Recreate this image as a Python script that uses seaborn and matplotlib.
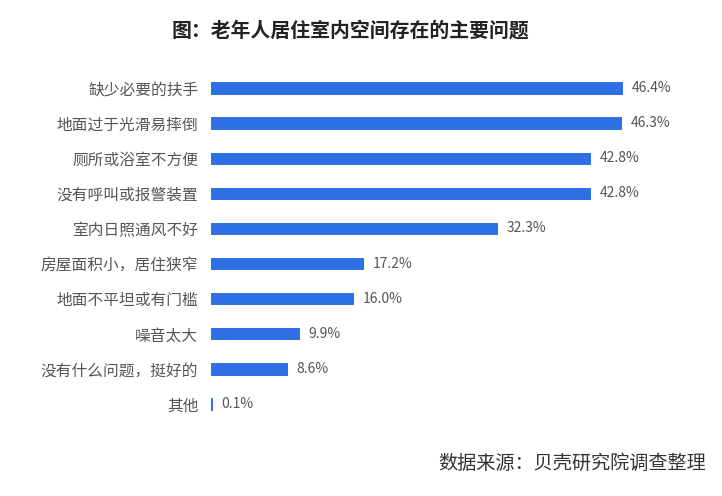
import matplotlib
matplotlib.use("Agg")
import matplotlib.pyplot as plt
import pandas as pd
import seaborn as sns

TITLE = "图：老年人居住室内空间存在的主要问题"
SOURCE = "数据来源：贝壳研究院调查整理"

problems = [
    "缺少必要的扶手",
    "地面过于光滑易摔倒",
    "厕所或浴室不方便",
    "没有呼叫或报警装置",
    "室内日照通风不好",
    "房屋面积小，居住狭窄",
    "地面不平坦或有门槛",
    "噪音太大",
    "没有什么问题，挺好的",
    "其他",
]
shares = [46.4, 46.3, 42.8, 42.8, 32.3, 17.2, 16.0, 9.9, 8.6, 0.1]

BAR_COLOR = "#2f6fe4"
TEXT_GREY = "#555555"

sns.set_theme(style="white")
plt.rcParams["font.family"] = ["Noto Sans CJK SC", "DejaVu Sans"]

df = pd.DataFrame({"problem": problems, "share": shares})

fig = plt.figure(figsize=(7.22, 4.96), dpi=100)
ax = fig.add_axes([0.292, 0.150, 0.678, 0.708])

sns.barplot(data=df, x="share", y="problem", orient="h", color=BAR_COLOR,
            width=0.32, saturation=1, edgecolor=BAR_COLOR, linewidth=0.7,
            ax=ax)

for i, v in enumerate(df["share"]):
    ax.text(v + 1.1, i, f"{v:.1f}%", va="center", ha="left",
            fontsize=10, color=TEXT_GREY)

ax.set_xlim(0, 55.2)
ax.set_ylim(9.5, -0.5)
ax.set_xlabel("")
ax.set_ylabel("")
ax.set_xticks([])
ax.tick_params(axis="y", length=0, pad=9, labelsize=11.3, labelcolor=TEXT_GREY)
sns.despine(ax=ax, left=True, bottom=True)

fig.text(0.485, 0.94, TITLE, ha="center", va="center", fontsize=14.3,
         fontweight="bold", color="#222222")
fig.text(0.978, 0.065, SOURCE, ha="right", va="center", fontsize=13.8,
         color="#333333")

fig.savefig("out.png", dpi=100)
